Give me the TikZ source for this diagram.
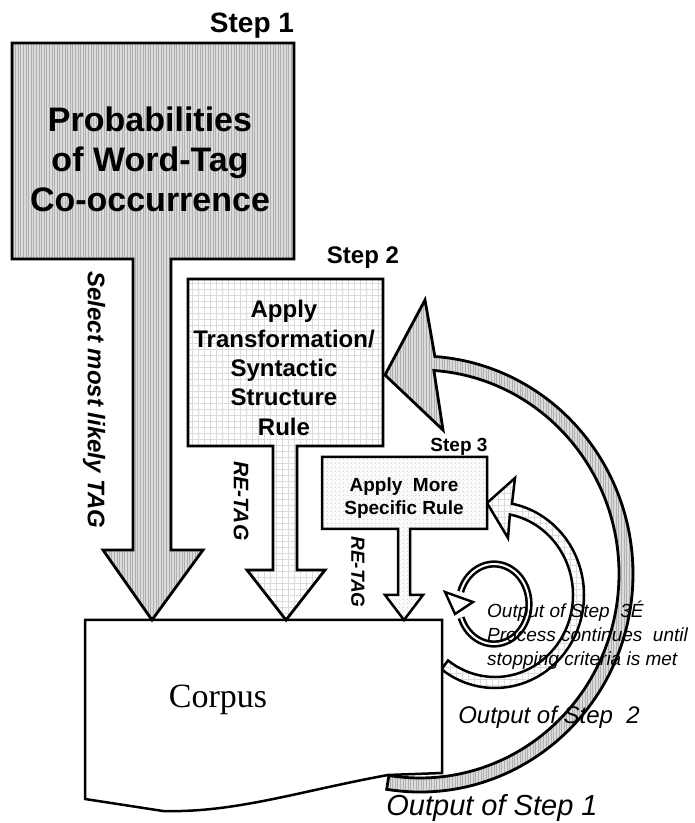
\documentclass[tikz,border=0pt]{standalone}
\usepackage{fontspec}
\setmainfont{Liberation Sans}
\newfontfamily\corpusfont{Liberation Serif}
\usetikzlibrary{calc,patterns.meta}

\begin{document}
\begin{tikzpicture}[x=1pt,y=1pt,
  outline/.style={draw=black, line width=2.8pt, line join=miter},
  stripefill/.style={preaction={fill=gray!28}, pattern={Lines[angle=90,distance=2.6pt,line width=0.8pt]}, pattern color=gray!62},
  gridfill/.style={preaction={fill=white}, pattern={Hatch[distance=6pt,line width=0.6pt]}, pattern color=gray!28},
  dotfill/.style={preaction={fill=gray!5}, pattern={Dots[distance=4pt,radius=0.6pt]}, pattern color=gray!45},
  boldtxt/.style={font=\bfseries\fontsize{#1}{#1}\selectfont, inner sep=0pt},
  sidelabel/.style={rotate=-90, font=\bfseries\itshape\fontsize{#1}{#1}\selectfont, inner sep=0pt},
  outtxt/.style={font=\itshape\fontsize{#1}{#1}\selectfont, inner sep=0pt}
]
\useasboundingbox (0,0) rectangle (695,823);

% curved feedback arrows (drawn first, the corpus sits on top of their tails)
\coordinate (c1) at (420,249);
\path[outline, stripefill]
  ($(c1)+(-99:213 and 218)$) arc[start angle=-99, end angle=86, x radius=213, y radius=218]
  -- (425,523) -- (385,448) -- (443,393)
  -- ($(c1)+(86:199 and 204)$) arc[start angle=86, end angle=-99, x radius=199, y radius=204]
  -- cycle;

\coordinate (c2) at (495,228);
\path[outline, line width=2.5pt, gridfill]
  ($(c2)+(-127:89 and 93)$) arc[start angle=-127, end angle=79, x radius=89, y radius=93]
  -- (515,345) -- (487,320) -- (508,285)
  -- ($(c2)+(79:78 and 82)$) arc[start angle=79, end angle=-127, x radius=78, y radius=82]
  -- cycle;

% small loop: the process repeats
\coordinate (c3) at (494,219);
\draw[line width=2.6pt, double=white, double distance=2pt]
  ($(c3)+(200:35 and 40)$) arc[start angle=200, end angle=522, x radius=35, y radius=40];
\path[draw=black, line width=2.4pt, fill=white, line join=miter]
  (445,231) -- (473,221) -- (455,209) -- cycle;

% corpus document shape
\path[outline, line width=2.5pt, fill=white]
  (85,203) -- (442,203) -- (442,50) -- (388,48)
  .. controls (300,32) and (235,10) .. (163,12) -- (85,24) -- cycle;
\node[font=\corpusfont\fontsize{34}{34}\selectfont, inner sep=0pt] (corpus) at (218,123) {Corpus};

% step 1 box with its arrow
\path[outline, stripefill]
  (12,780) -- (294,780) -- (294,564) -- (171,564) -- (171,273) -- (203,273)
  -- (152,203) -- (103,273) -- (133,273) -- (133,564) -- (12,564) -- cycle;
\node[boldtxt=28] (s1) at (252,797) {Step 1};
\node[align=center, font=\bfseries\fontsize{34}{40}\selectfont] (prob) at (150,664)
  {Probabilities\\of Word-Tag\\Co-occurrence};

% step 2 box with its arrow
\path[outline, gridfill]
  (188,544) -- (383,544) -- (383,377) -- (297,377) -- (297,253) -- (325,253)
  -- (286,203) -- (247,253) -- (273,253) -- (273,377) -- (188,377) -- cycle;
\node[boldtxt=24] (s2) at (363,565) {Step 2};
\node[align=center, font=\bfseries\fontsize{24}{29.3}\selectfont] (rule2) at (284,455)
  {Apply\\Transformation/\\Syntactic\\Structure\\Rule};

% step 3 box with its arrow
\path[outline, line width=2.5pt, dotfill]
  (322,366) -- (487,366) -- (487,294) -- (410,294) -- (410,228) -- (423,228)
  -- (404,203) -- (385,228) -- (398,228) -- (398,294) -- (322,294) -- cycle;
\node[boldtxt=19] (s3) at (459,376) {Step 3};
\node[align=center, font=\bfseries\fontsize{19}{23}\selectfont] (rule3) at (404,325)
  {Apply~ More\\Specific Rule};

% labels along the arrows
\node[sidelabel=24] (sel) at (94,423) {Select most likely TAG};
\node[sidelabel=21] (rt2) at (241,322) {RE-TAG};
\node[sidelabel=19] (rt3) at (358,251) {RE-TAG};

\node[anchor=west, align=left, font=\itshape\fontsize{19}{24}\selectfont, inner sep=0pt] (out3) at (487,188)
  {Output of Step~ 3É\\Process continues~ until\\stopping criteria is met};
\node[outtxt=24] (out2) at (549,106) {Output of Step~ 2};
\node[outtxt=29] (out1) at (492,15) {Output of Step 1};
\end{tikzpicture}
\end{document}
